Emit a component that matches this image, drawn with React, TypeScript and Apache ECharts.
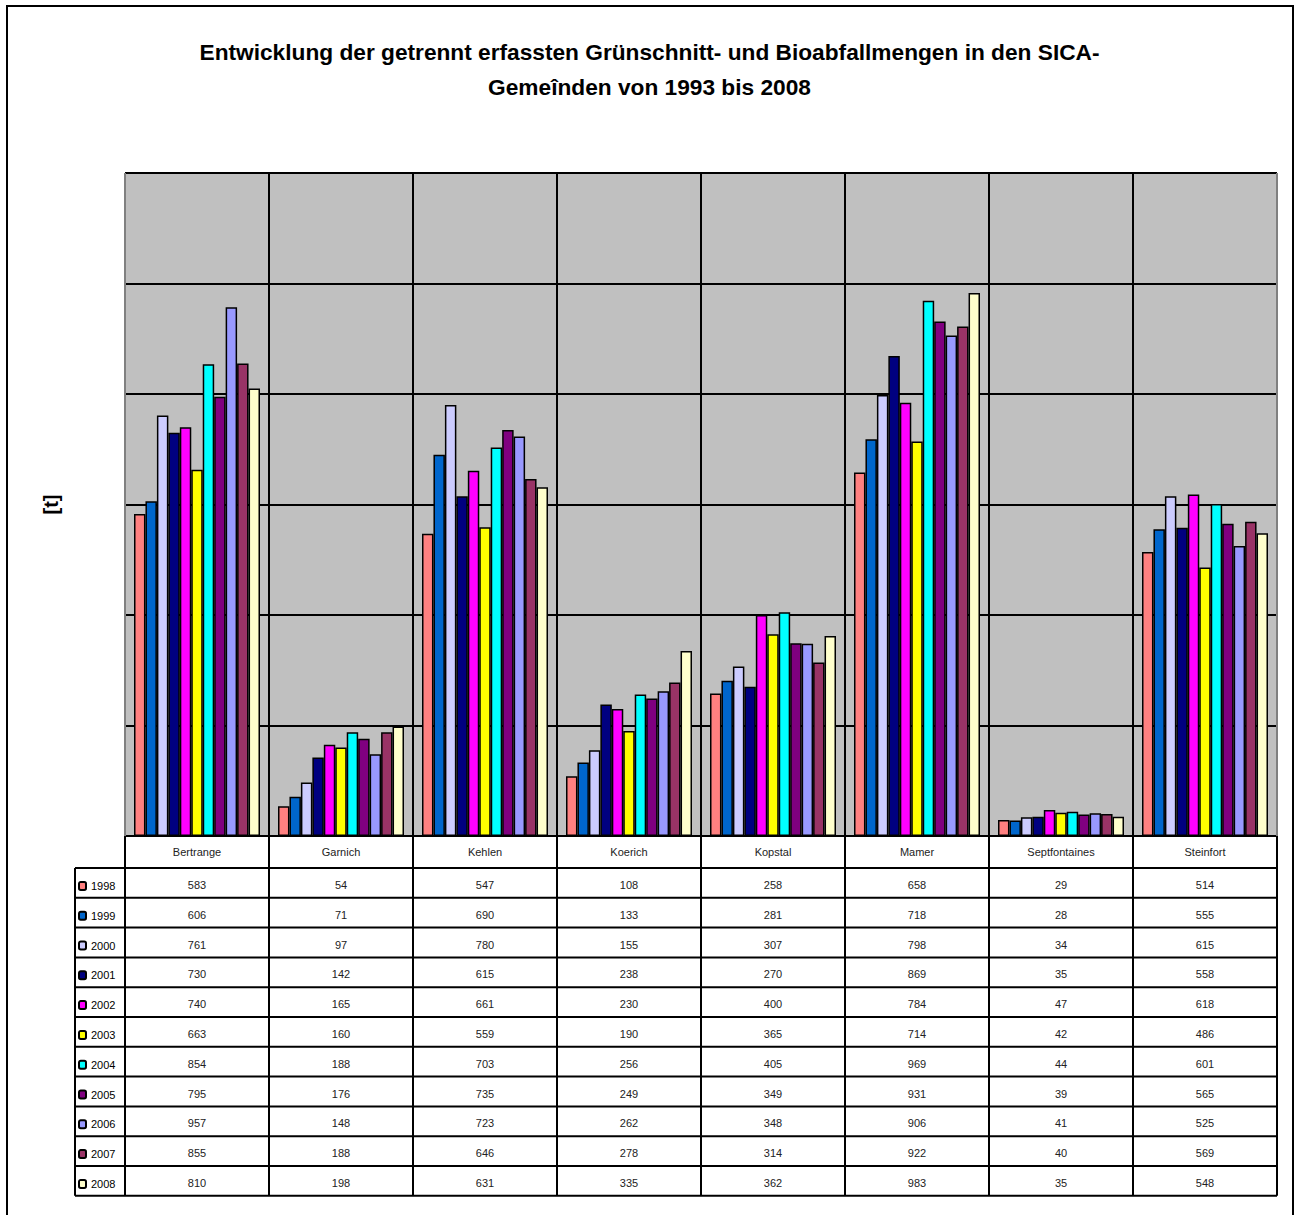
import React, { useEffect, useRef } from "react";
import * as echarts from "echarts";

const categories = ["Bertrange", "Garnich", "Kehlen", "Koerich", "Kopstal", "Mamer", "Septfontaines", "Steinfort"];
const years = ["1998", "1999", "2000", "2001", "2002", "2003", "2004", "2005", "2006", "2007", "2008"];
const v1998 = [583, 54, 547, 108, 258, 658, 29, 514];
const v1999 = [606, 71, 690, 133, 281, 718, 28, 555];
const v2000 = [761, 97, 780, 155, 307, 798, 34, 615];
const v2001 = [730, 142, 615, 238, 270, 869, 35, 558];
const v2002 = [740, 165, 661, 230, 400, 784, 47, 618];
const v2003 = [663, 160, 559, 190, 365, 714, 42, 486];
const v2004 = [854, 188, 703, 256, 405, 969, 44, 601];
const v2005 = [795, 176, 735, 249, 349, 931, 39, 565];
const v2006 = [957, 148, 723, 262, 348, 906, 41, 525];
const v2007 = [855, 188, 646, 278, 314, 922, 40, 569];
const v2008 = [810, 198, 631, 335, 362, 983, 35, 548];
const seriesValues = [v1998, v1999, v2000, v2001, v2002, v2003, v2004, v2005, v2006, v2007, v2008];
const colors = ["#FF8080", "#0066CC", "#CCCCFF", "#000080", "#FF00FF", "#FFFF00", "#00FFFF", "#800080", "#9999FF", "#993366", "#FFFFCC"];
const titleText = "Entwicklung der getrennt erfassten Grünschnitt- und Bioabfallmengen in den SICA-\nGemeînden von 1993 bis 2008";
const yName = "[t]";

// layout constants
const W = 1299;
const H = 1215;
const GL = 125;
const GT = 173;
const GW = 1152;
const GH = 663;
const HEAD_H = 32;
const ROW_H = 29.8;
const LEG_X = 75;
const FONT = "'Liberation Sans', Arial, sans-serif";

export default function App() {
  const ref = useRef<HTMLDivElement>(null);
  useEffect(() => {
    if (!ref.current) return;
    const chart = echarts.init(ref.current, null, { renderer: "svg" });
    const gb = GT + GH; // grid bottom
    const tableTop = gb + HEAD_H;
    const tableBottom = tableTop + ROW_H * years.length;
    const catW = GW / categories.length;

    const xAxes: any[] = [
      {
        type: "category",
        data: categories,
        gridIndex: 0,
        position: "bottom",
        axisLine: { show: true, lineStyle: { color: "#000", width: 2 } },
        axisTick: { show: false },
        splitLine: { show: true, lineStyle: { color: "#000", width: 2 } },
        axisLabel: {
          interval: 0,
          margin: HEAD_H / 2,
          verticalAlign: "middle",
          fontSize: 11,
          color: "#222",
          fontFamily: FONT,
        },
      },
    ];
    years.forEach((y, i) => {
      const vals = seriesValues[i];
      xAxes.push({
        type: "category",
        data: categories,
        gridIndex: 0,
        position: "bottom",
        offset: HEAD_H + ROW_H * i + ROW_H / 2 + 2,
        axisLine: { show: false },
        axisTick: { show: false },
        splitLine: { show: false },
        axisLabel: {
          interval: 0,
          margin: 0,
          verticalAlign: "middle",
          fontSize: 11,
          color: "#222",
          fontFamily: FONT,
          formatter: (_v: string, idx: number) => String(vals[idx]),
        },
      });
    });

    const graphics: any[] = [];
    // outer frame
    graphics.push({
      type: "rect",
      shape: { x: 7, y: 6, width: 1286, height: 1230 },
      style: { fill: "none", stroke: "#000", lineWidth: 2 },
      silent: true,
      z: 100,
    });
    // vertical table lines
    for (let k = 0; k <= categories.length; k++) {
      const x = GL + catW * k;
      graphics.push({
        type: "line",
        shape: { x1: x, y1: gb, x2: x, y2: tableBottom },
        style: { stroke: "#000", lineWidth: 2 },
        silent: true,
        z: 100,
      });
    }
    graphics.push({
      type: "line",
      shape: { x1: LEG_X, y1: tableTop, x2: LEG_X, y2: tableBottom },
      style: { stroke: "#000", lineWidth: 2 },
      silent: true,
      z: 100,
    });
    // horizontal table lines
    for (let r = 0; r <= years.length; r++) {
      const y = tableTop + ROW_H * r;
      graphics.push({
        type: "line",
        shape: { x1: LEG_X, y1: y, x2: GL + GW, y2: y },
        style: { stroke: "#000", lineWidth: 2 },
        silent: true,
        z: 100,
      });
    }
    // plot-area side edges (grey)
    graphics.push({
      type: "line",
      shape: { x1: GL, y1: GT, x2: GL, y2: gb },
      style: { stroke: "#808080", lineWidth: 2 },
      silent: true,
      z: 50,
    });
    graphics.push({
      type: "line",
      shape: { x1: GL + GW, y1: GT, x2: GL + GW, y2: gb },
      style: { stroke: "#808080", lineWidth: 2 },
      silent: true,
      z: 50,
    });

    const option: any = {
      animation: false,
      backgroundColor: "#fff",
      title: {
        text: titleText,
        left: "center",
        top: 29,
        textStyle: {
          fontSize: 22.7,
          fontWeight: "bold",
          fontFamily: FONT,
          color: "#000",
          lineHeight: 35,
        },
      },
      grid: {
        left: GL,
        top: GT,
        width: GW,
        height: GH,
        show: true,
        backgroundColor: "#C0C0C0",
        borderColor: "#808080",
        borderWidth: 1,
        containLabel: false,
      },
      legend: {
        orient: "vertical",
        left: LEG_X + 3,
        top: tableTop + ROW_H / 2 - 4,
        height: 400,
        padding: 0,
        itemWidth: 7,
        itemHeight: 8,
        itemGap: ROW_H - 14,
        data: years,
        textStyle: { fontSize: 11, lineHeight: 14, color: "#000", fontFamily: FONT },
        selectedMode: false,
      },
      xAxis: xAxes,
      yAxis: {
        type: "value",
        min: 0,
        max: 1200,
        interval: 200,
        name: yName,
        nameLocation: "middle",
        nameRotate: 90,
        nameGap: 64,
        nameTextStyle: { fontSize: 20, fontWeight: "bold", fontFamily: FONT, color: "#000" },
        axisLine: { show: false },
        axisTick: { show: false },
        axisLabel: { show: false },
        splitLine: { show: true, lineStyle: { color: "#000", width: 2 } },
      },
      series: years.map((y, i) => ({
        name: y,
        type: "bar",
        xAxisIndex: 0,
        data: seriesValues[i],
        barGap: "0%",
        barCategoryGap: "12.5%",
        itemStyle: { color: colors[i], borderColor: "#000", borderWidth: 1.5 },
      })),
      graphic: graphics,
    };
    chart.setOption(option);
    return () => chart.dispose();
  }, []);
  return (
    <div style={{ position: "absolute", left: 0, top: 0, width: W, height: H, background: "#fff" }}>
      <div ref={ref} style={{ width: W, height: H }} />
    </div>
  );
}
